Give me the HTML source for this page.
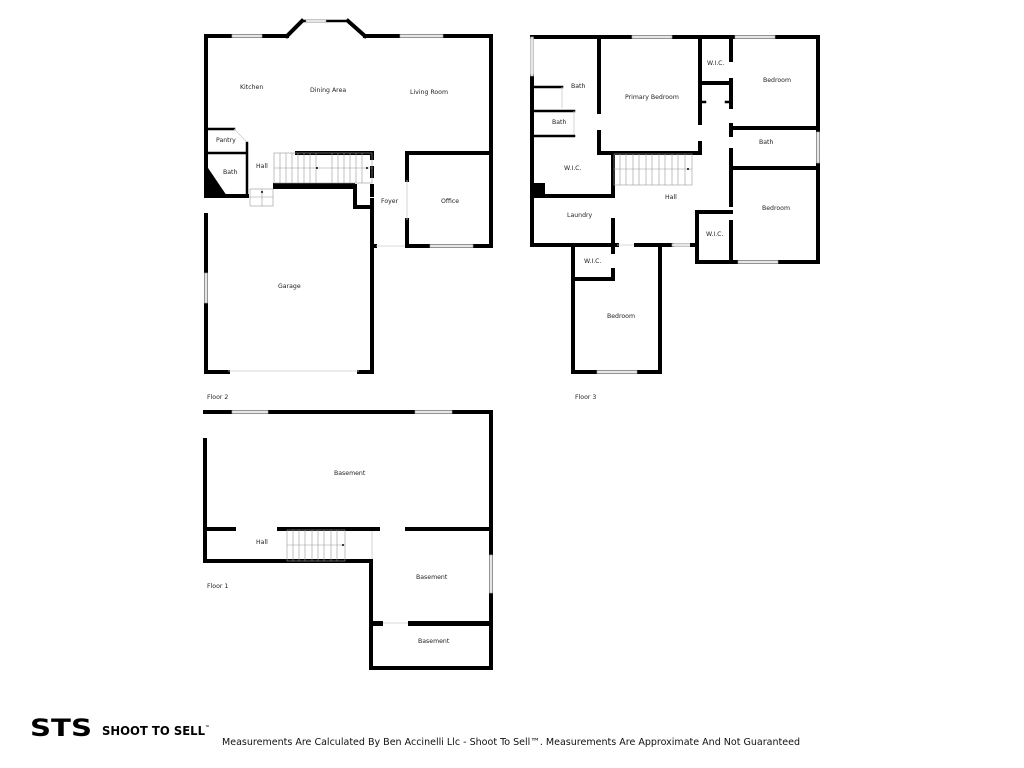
<!DOCTYPE html>
<html><head><meta charset="utf-8"><style>
html,body{margin:0;padding:0;background:#fff;}
svg{display:block;}
text{font-family:"DejaVu Sans","Liberation Sans",sans-serif;font-size:6.2px;fill:#222;}
.w{stroke:#000;stroke-width:4;stroke-linecap:square;fill:none;}
.t{stroke:#000;stroke-width:2.5;stroke-linecap:square;fill:none;}
.win{fill:#e6e6e6;stroke:#aaa;stroke-width:0.6;}
.op{stroke:#ccc;stroke-width:0.8;fill:none;}
.st{stroke:#999;stroke-width:0.6;fill:none;}
</style></head><body>
<svg width="1024" height="768" viewBox="0 0 1024 768" xmlns="http://www.w3.org/2000/svg">
<rect width="1024" height="768" fill="#fff"/>

<!-- ===== FLOOR 2 ===== -->
<g>
<path class="w" d="M206 36 H287"/>
<path class="w" d="M287 36 L302 21"/>
<path class="t" d="M302 21 H348"/>
<path class="w" d="M348 21 L365 36"/>
<path class="w" d="M365 36 H491 V246 H407"/>
<rect class="win" x="232" y="34.5" width="30" height="3"/>
<rect class="win" x="306" y="19.5" width="20" height="3"/>
<rect class="win" x="400" y="34.5" width="43" height="3"/>
<rect class="win" x="430" y="244.5" width="43" height="3"/>
<path class="w" d="M206 36 V195"/>
<path class="w" d="M206 215 V372 H228"/>
<path class="w" d="M359 372 H372 V200"/>
<rect class="win" x="204.5" y="273" width="3" height="30"/>
<path class="op" d="M228 371 H359"/>
<path class="w" d="M407 153 H491"/>
<path class="w" d="M407 153 V180"/>
<path class="w" d="M407 220 V246"/>
<path class="op" d="M407 180 V220"/>
<path class="w" d="M372 246 H375"/>
<path class="op" d="M376 246 H405"/>
<path class="w" d="M297 153 H372 V158"/>
<path class="w" d="M372 168 V176"/>
<rect x="273" y="183" width="82" height="6" fill="#000"/>
<path class="w" d="M355 186 V207 H372"/>
<path class="w" d="M372 186 V195"/>
<rect class="st" x="274" y="153" width="98" height="30"/>
<path class="st" d="M274 168 H372 M280 153V183 M286 153V183 M292 153V183 M298 153V183 M304 153V183 M310 153V183 M316 153V183 M332 153V183 M338 153V183 M344 153V183 M350 153V183 M356 153V183 M362 153V183"/>
<circle cx="317" cy="168" r="1" fill="#000"/>
<circle cx="367" cy="168" r="1" fill="#000"/>
<rect class="st" x="250" y="189" width="23" height="17"/>
<path class="st" d="M250 197 H273 M262 189 V206"/>
<circle cx="262" cy="192" r="1" fill="#000"/>
<path class="t" d="M206 129 H234"/>
<path class="op" d="M234 129 L246 141"/>
<path class="t" d="M206 153 H246"/>
<path class="t" d="M247 143 V196"/>
<path class="w" d="M206 196 H247"/>
<polygon points="206,165 206,196 227,196" fill="#000"/>
<text x="240" y="89">Kitchen</text>
<text x="310" y="92">Dining Area</text>
<text x="410" y="94">Living Room</text>
<text x="216" y="142">Pantry</text>
<text x="223" y="174">Bath</text>
<text x="256" y="168">Hall</text>
<text x="381" y="203">Foyer</text>
<text x="441" y="203">Office</text>
<text x="278" y="288">Garage</text>
<text x="207" y="399">Floor 2</text>
</g>

<!-- ===== FLOOR 3 ===== -->
<g>
<path class="w" d="M532 37 H818 V262 H697 V212 H731"/>
<rect class="win" x="632" y="35.5" width="40" height="3"/>
<rect class="win" x="735" y="35.5" width="40" height="3"/>
<rect class="win" x="738" y="260.5" width="40" height="3"/>
<rect class="win" x="816.5" y="132" width="3" height="31"/>
<path class="w" d="M532 76 V245 H613"/>
<rect class="win" x="530.5" y="37" width="3" height="39"/>
<path class="t" d="M532 87 H562"/>
<path class="op" d="M562 87 V108"/>
<path class="t" d="M532 111 H574"/>
<path class="op" d="M574 111 V135"/>
<path class="t" d="M532 136 H574"/>
<path class="w" d="M599 37 V112"/>
<path class="w" d="M599 132 V153 H700 V143"/>
<path class="w" d="M700 37 V123"/>
<path class="w" d="M700 83 H731"/>
<path class="t" d="M700 102 H705 M726 102 H731"/>
<path class="w" d="M731 37 V60"/>
<path class="w" d="M731 80 V107"/>
<path class="w" d="M731 125 V135"/>
<path class="w" d="M731 128 H818"/>
<path class="w" d="M731 150 V205"/>
<path class="w" d="M731 168 H818"/>
<path class="w" d="M731 222 V262"/>
<path class="w" d="M532 196 H613 V153"/>
<rect x="532" y="183" width="13" height="13" fill="#000"/>
<path class="w" d="M613 220 V245"/>
<path class="w" d="M613 245 H617"/>
<path class="op" d="M617 245 H636"/>
<path class="w" d="M636 245 H672"/>
<rect class="win" x="672" y="243.5" width="20" height="3"/>
<path class="w" d="M692 245 H697"/>
<path class="w" d="M573 245 V372 H660 V245"/>
<rect class="win" x="597" y="370.5" width="40" height="3"/>
<path class="w" d="M573 279 H613 V270"/>
<path class="w" d="M613 245 V252"/>
<rect class="st" x="614" y="154" width="78" height="31"/>
<path class="st" d="M614 169 H692 M620 154V185 M626 154V185 M633 154V185 M639 154V185 M646 154V185 M652 154V185 M659 154V185 M665 154V185 M672 154V185 M678 154V185 M685 154V185"/>
<circle cx="688" cy="169" r="1" fill="#000"/>
<text x="571" y="88">Bath</text>
<text x="552" y="124">Bath</text>
<text x="625" y="99">Primary Bedroom</text>
<text x="707" y="65">W.I.C.</text>
<text x="763" y="82">Bedroom</text>
<text x="759" y="144">Bath</text>
<text x="564" y="170">W.I.C.</text>
<text x="665" y="199">Hall</text>
<text x="567" y="217">Laundry</text>
<text x="762" y="210">Bedroom</text>
<text x="706" y="236">W.I.C.</text>
<text x="584" y="263">W.I.C.</text>
<text x="607" y="318">Bedroom</text>
<text x="575" y="399">Floor 3</text>
</g>

<!-- ===== FLOOR 1 ===== -->
<g>
<path class="w" d="M205 412 H491 V668 H371 V561 H205 V440"/>
<rect class="win" x="232" y="410.5" width="36" height="3"/>
<rect class="win" x="415" y="410.5" width="37" height="3"/>
<rect class="win" x="489.5" y="555" width="3" height="38"/>
<path class="w" d="M205 529 H234"/>
<path class="w" d="M279 529 H378"/>
<path class="w" d="M407 529 H491"/>
<path class="op" d="M372 531 V559"/>
<rect x="371" y="621" width="12" height="5" fill="#000"/>
<rect x="408" y="621" width="83" height="5" fill="#000"/>
<path class="op" d="M383 623 H408"/>
<rect class="st" x="287" y="530" width="58" height="31"/>
<path class="st" d="M287 545 H345 M293 530V561 M299 530V561 M305 530V561 M312 530V561 M318 530V561 M324 530V561 M331 530V561 M337 530V561"/>
<circle cx="343" cy="545" r="1" fill="#000"/>
<text x="334" y="475">Basement</text>
<text x="256" y="544">Hall</text>
<text x="416" y="579">Basement</text>
<text x="418" y="643">Basement</text>
<text x="207" y="588">Floor 1</text>
</g>

<!-- ===== LOGO & FOOTER ===== -->
<g>
<text x="30" y="736" style="font-family:'DejaVu Sans','Liberation Sans',sans-serif;font-size:24px;font-weight:bold;fill:#000;" textLength="62" lengthAdjust="spacingAndGlyphs">STS</text>
<text x="102" y="735" style="font-family:'DejaVu Sans','Liberation Sans',sans-serif;font-size:12px;font-weight:bold;fill:#000;" textLength="103" lengthAdjust="spacingAndGlyphs">SHOOT TO SELL</text>
<text x="205" y="729" style="font-size:5px;font-weight:bold;fill:#000;">™</text>
<text x="222" y="745" style="font-family:'DejaVu Sans','Liberation Sans',sans-serif;font-size:9.4px;fill:#111;" textLength="578" lengthAdjust="spacingAndGlyphs">Measurements Are Calculated By Ben Accinelli Llc - Shoot To Sell™. Measurements Are Approximate And Not Guaranteed</text>
</g>
</svg>
</body></html>
